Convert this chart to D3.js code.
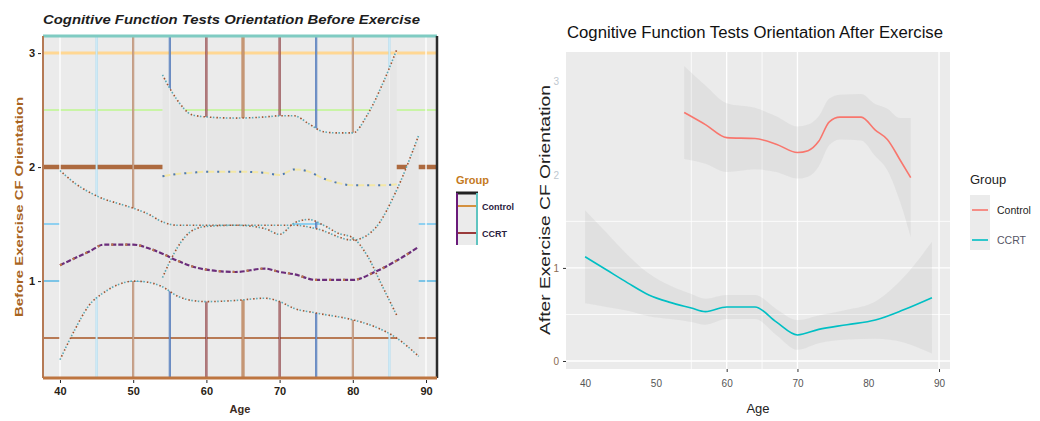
<!DOCTYPE html>
<meta charset="utf-8">
<style>
body { margin: 0; background: #fff; }
svg { display: block; font-family: "Liberation Sans", Arial, sans-serif; }
</style>
<body>
<svg id="chart" width="1040" height="421"></svg>
<script src="https://d3js.org/d3.v7.min.js"></script>
<script>

// ---- data ----
var groups = ["Control", "CCRT"];
var ageTicks = [40, 50, 60, 70, 80, 90];
var beforeTicks = [1, 2, 3];
var afterTicks = [0, 1, 2, 3];

// before exercise (left panel)
var beforeControlAge  = [54, 55, 56, 58, 60, 64, 68, 70, 72, 74, 76, 78, 80, 82, 84, 86];
var beforeControlMean = [1.92, 1.93, 1.94, 1.95, 1.96, 1.96, 1.95, 1.93, 1.98, 1.96, 1.90, 1.86, 1.84, 1.84, 1.84, 1.85];
var beforeControlHigh = [2.81, 2.69, 2.59, 2.46, 2.44, 2.43, 2.44, 2.45, 2.45, 2.38, 2.31, 2.30, 2.30, 2.46, 2.72, 3.03];
var beforeControlLow  = [1.03, 1.17, 1.29, 1.44, 1.48, 1.49, 1.46, 1.41, 1.51, 1.54, 1.49, 1.42, 1.38, 1.22, 0.96, 0.70];

var beforeCcrtAge  = [40, 42, 44, 46, 48, 50, 52, 54, 56, 58, 60, 64, 68, 70, 72, 75, 80, 83, 86, 89];
var beforeCcrtMean = [1.14, 1.20, 1.26, 1.32, 1.32, 1.32, 1.29, 1.24, 1.18, 1.13, 1.10, 1.08, 1.11, 1.08, 1.06, 1.01, 1.01, 1.08, 1.18, 1.30];
var beforeCcrtHigh = [1.97, 1.86, 1.78, 1.72, 1.68, 1.64, 1.59, 1.52, 1.49, 1.49, 1.49, 1.49, 1.49, 1.49, 1.49, 1.46, 1.36, 1.46, 1.80, 2.28];
var beforeCcrtLow  = [0.31, 0.57, 0.79, 0.90, 0.97, 1.00, 0.99, 0.95, 0.87, 0.83, 0.82, 0.83, 0.85, 0.82, 0.76, 0.72, 0.66, 0.60, 0.50, 0.34];

// after exercise (right panel)
var afterControlAge  = [54, 57, 60, 64, 67, 70, 71.5, 73, 74.5, 76, 79, 81, 82.7, 84.5, 86];
var afterControlMean = [2.67, 2.54, 2.40, 2.39, 2.33, 2.24, 2.26, 2.36, 2.57, 2.62, 2.62, 2.48, 2.38, 2.16, 1.97];
var afterControlHigh = [3.17, 2.96, 2.77, 2.72, 2.63, 2.52, 2.54, 2.63, 2.82, 2.86, 2.87, 2.76, 2.71, 2.61, 2.61];
var afterControlLow  = [2.17, 2.12, 2.03, 2.06, 2.03, 1.96, 1.98, 2.09, 2.32, 2.38, 2.37, 2.20, 2.05, 1.71, 1.33];

var afterCcrtAge  = [40, 43, 46, 49, 52, 55, 57, 60, 64, 67, 70, 73, 77, 81, 85, 89];
var afterCcrtMean = [1.12, 0.98, 0.84, 0.71, 0.63, 0.57, 0.53, 0.58, 0.58, 0.42, 0.28, 0.34, 0.39, 0.44, 0.55, 0.68];
var afterCcrtHigh = [1.62, 1.38, 1.14, 0.94, 0.81, 0.72, 0.67, 0.71, 0.71, 0.56, 0.44, 0.49, 0.55, 0.64, 0.90, 1.28];
var afterCcrtLow  = [0.62, 0.58, 0.54, 0.48, 0.45, 0.42, 0.39, 0.45, 0.45, 0.28, 0.12, 0.19, 0.23, 0.24, 0.20, 0.08];

function rows(age, mean, low, high) {
  return age.map(function(a, i) { return {age: a, mean: mean[i], low: low[i], high: high[i]}; });
}

var svg = d3.select("#chart");
var intFmt = d3.format("d");

// ================= left panel (before) =================
var lx = d3.scaleLinear().domain([37.68, 91.5]).range([43, 437]);
var ly = d3.scaleLinear().domain([0.15, 3.15]).range([378, 36]);

var left = svg.append("g");

left.append("rect")
    .attr("x", lx.range()[0]).attr("y", ly.range()[1])
    .attr("width", lx.range()[1] - lx.range()[0])
    .attr("height", ly.range()[0] - ly.range()[1])
    .attr("fill", "#ebebeb");

// odd coloured grid
var vGrid = d3.range(40, 91, 5);
var vColors = ["#ffffff", "#a8dcf2", "#b07a58", "#2f5fae", "#7b1e22", "#b5784c", "#7b1e22", "#2f5fae", "#b07a58", "#a8dcf2", "#ffffff"];
var vWidths = [1.2, 2, 2, 2, 2, 3, 2, 2, 2, 2, 1.2];
var hGrid = [0.5, 1, 1.5, 2, 2.5, 3];
var hColors = ["#b87a55", "#7cc4e6", "#8fd0f0", "#ad6a3f", "#c9f4a6", "#ffd793"];
var hWidths = [2, 2, 2, 4.5, 2, 3];

left.selectAll(".hgrid").data(hGrid).enter().append("line")
    .attr("x1", 43).attr("x2", 437)
    .attr("y1", function(d) { return ly(d); })
    .attr("y2", function(d) { return ly(d); })
    .attr("stroke", function(d, i) { return hColors[i]; })
    .attr("stroke-width", function(d, i) { return hWidths[i]; });

left.selectAll(".vgrid").data(vGrid).enter().append("line")
    .attr("y1", 36).attr("y2", 378)
    .attr("x1", function(d) { return lx(d); })
    .attr("x2", function(d) { return lx(d); })
    .attr("stroke", function(d, i) { return vColors[i]; })
    .attr("stroke-width", function(d, i) { return vWidths[i]; });

var bControl = rows(beforeControlAge, beforeControlMean, beforeControlLow, beforeControlHigh);
var bCcrt = rows(beforeCcrtAge, beforeCcrtMean, beforeCcrtLow, beforeCcrtHigh);

var lArea = d3.area().curve(d3.curveMonotoneX)
    .x(function(d) { return lx(d.age); })
    .y0(function(d) { return ly(d.low); })
    .y1(function(d) { return ly(d.high); });

[bCcrt, bControl].forEach(function(s) {
  left.append("path").attr("d", lArea(s)).attr("fill", "#e6e6e6");
});

// faint white grid showing through the ribbons
left.selectAll(".wv").data(vGrid).enter().append("line")
    .attr("y1", 36).attr("y2", 378)
    .attr("x1", function(d) { return lx(d); })
    .attr("x2", function(d) { return lx(d); })
    .attr("stroke", "#fff").attr("stroke-width", 1).attr("opacity", 0.45);

function edge(key) {
  return d3.line().curve(d3.curveMonotoneX)
      .x(function(d) { return lx(d.age); })
      .y(function(d) { return ly(d[key]); });
}

[bCcrt, bControl].forEach(function(s) {
  ["low", "high"].forEach(function(k) {
    left.append("path").attr("d", edge(k)(s)).attr("fill", "none")
        .attr("stroke", "#5aa9b5").attr("stroke-width", 1.6).attr("stroke-dasharray", "1.5,5");
    left.append("path").attr("d", edge(k)(s)).attr("fill", "none")
        .attr("stroke", "#a0522d").attr("stroke-width", 1.6).attr("stroke-dasharray", "1.5,5")
        .attr("stroke-dashoffset", 3);
  });
});

left.append("path").attr("d", edge("mean")(bCcrt)).attr("fill", "none")
    .attr("stroke", "#6b2d7b").attr("stroke-width", 2.2).attr("stroke-dasharray", "5,2");
left.append("path").attr("d", edge("mean")(bCcrt)).attr("fill", "none")
    .attr("stroke", "#c07a45").attr("stroke-width", 2.2).attr("stroke-dasharray", "2,12");
left.append("path").attr("d", edge("mean")(bControl)).attr("fill", "none")
    .attr("stroke", "#f3e7a6").attr("stroke-width", 2).attr("stroke-dasharray", "8,3");
left.append("path").attr("d", edge("mean")(bControl)).attr("fill", "none")
    .attr("stroke", "#4a77b8").attr("stroke-width", 2).attr("stroke-dasharray", "2,9");

// panel borders
left.append("line").attr("x1", 43).attr("x2", 437).attr("y1", 36).attr("y2", 36)
    .attr("stroke", "#7fcbc2").attr("stroke-width", 3);
left.append("line").attr("x1", 43).attr("x2", 43).attr("y1", 36).attr("y2", 378)
    .attr("stroke", "#b57a55").attr("stroke-width", 2);
left.append("line").attr("x1", 437).attr("x2", 437).attr("y1", 36).attr("y2", 378)
    .attr("stroke", "#2b2b2b").attr("stroke-width", 2.5);
left.append("line").attr("x1", 43).attr("x2", 437).attr("y1", 378).attr("y2", 378)
    .attr("stroke", "#bd7540").attr("stroke-width", 3);

// axes
var lxAxis = left.append("g").attr("transform", "translate(0,380)")
    .call(d3.axisBottom(lx).tickValues(ageTicks).tickFormat(intFmt).tickSize(3).tickPadding(4));
var lyAxis = left.append("g").attr("transform", "translate(41,0)")
    .call(d3.axisLeft(ly).tickValues(beforeTicks).tickFormat(intFmt).tickSize(3).tickPadding(3));
[lxAxis, lyAxis].forEach(function(a) {
  a.select(".domain").remove();
  a.selectAll("line").attr("stroke", "#222");
  a.selectAll("text").attr("fill", "#2a1d14").style("font-size", "11px").style("font-weight", "bold");
});

left.append("text").attr("x", 240).attr("y", 413).attr("text-anchor", "middle")
    .style("font-size", "11px").style("font-weight", "bold").attr("fill", "#3b2a1e").text("Age");

left.append("text")
    .attr("transform", "translate(23,207) rotate(-90)")
    .attr("text-anchor", "middle").attr("textLength", 220).attr("lengthAdjust", "spacingAndGlyphs")
    .style("font-size", "11px").style("font-weight", "bold").attr("fill", "#a8641f")
    .text("Before Exercise CF Orientation");

left.append("text").attr("x", 43).attr("y", 24)
    .attr("textLength", 377).attr("lengthAdjust", "spacingAndGlyphs")
    .style("font-size", "13px").style("font-weight", "bold").style("font-style", "italic")
    .attr("fill", "#1d1d1d")
    .text("Cognitive Function Tests Orientation Before Exercise");

// left legend
var lLeg = left.append("g");
lLeg.append("text").attr("x", 456).attr("y", 184)
    .style("font-size", "11px").style("font-weight", "bold").attr("fill", "#c47a1e").text("Group");
lLeg.append("rect").attr("x", 456).attr("y", 192).attr("width", 22).attr("height", 53).attr("fill", "#ebebeb");
lLeg.append("line").attr("x1", 456).attr("x2", 478).attr("y1", 193).attr("y2", 193).attr("stroke", "#222").attr("stroke-width", 3);
lLeg.append("line").attr("x1", 457).attr("x2", 457).attr("y1", 193).attr("y2", 245).attr("stroke", "#6a1b7a").attr("stroke-width", 2);
lLeg.append("line").attr("x1", 477).attr("x2", 477).attr("y1", 193).attr("y2", 245).attr("stroke", "#5fc4c0").attr("stroke-width", 2);
var lKeyColors = ["#d4913f", "#9a3b3b"];
lLeg.selectAll(".key").data(groups).enter().append("line")
    .attr("x1", 458).attr("x2", 476)
    .attr("y1", function(d, i) { return 206 + i * 27; })
    .attr("y2", function(d, i) { return 206 + i * 27; })
    .attr("stroke", function(d, i) { return lKeyColors[i]; }).attr("stroke-width", 2);
lLeg.selectAll(".lab").data(groups).enter().append("text")
    .attr("x", 482).attr("y", function(d, i) { return 210 + i * 27; })
    .style("font-size", "9px").style("font-weight", "bold").attr("fill", "#2a2040")
    .text(function(d) { return d; });

// ================= right panel (after) =================
var rx = d3.scaleLinear().domain([37.3, 91.55]).range([566, 950]);
var ry = d3.scaleLinear().domain([-0.086, 3.32]).range([369, 52]);

var right = svg.append("g");

right.append("rect")
    .attr("x", 566).attr("y", 52).attr("width", 384).attr("height", 317)
    .attr("fill", "#ebebeb");

// only these grid lines survive in the picture
var rvGrid = [55, 60, 65, 70, 90];
var rhGrid = [0, 0.5, 1, 1.5];
right.selectAll(".rv").data(rvGrid).enter().append("line")
    .attr("y1", 52).attr("y2", 369)
    .attr("x1", function(d) { return rx(d); }).attr("x2", function(d) { return rx(d); })
    .attr("stroke", "#fff").attr("stroke-width", function(d) { return d % 10 === 0 ? 1.3 : 0.8; });
right.selectAll(".rh").data(rhGrid).enter().append("line")
    .attr("x1", 566).attr("x2", 950)
    .attr("y1", function(d) { return ry(d); }).attr("y2", function(d) { return ry(d); })
    .attr("stroke", "#fff").attr("stroke-width", function(d) { return d % 1 === 0 ? 1.3 : 0.8; });

var aControl = rows(afterControlAge, afterControlMean, afterControlLow, afterControlHigh);
var aCcrt = rows(afterCcrtAge, afterCcrtMean, afterCcrtLow, afterCcrtHigh);
var rColors = ["#F8766D", "#00BFC4"];

var rArea = d3.area().curve(d3.curveMonotoneX)
    .x(function(d) { return rx(d.age); })
    .y0(function(d) { return ry(d.low); })
    .y1(function(d) { return ry(d.high); });
var rLine = d3.line().curve(d3.curveMonotoneX)
    .x(function(d) { return rx(d.age); })
    .y(function(d) { return ry(d.mean); });

[aControl, aCcrt].forEach(function(s) {
  right.append("path").attr("d", rArea(s)).attr("fill", "#999").attr("opacity", 0.13);
});
[aControl, aCcrt].forEach(function(s, i) {
  right.append("path").attr("d", rLine(s)).attr("fill", "none")
      .attr("stroke", rColors[i]).attr("stroke-width", 1.6);
});

var rxAxis = right.append("g").attr("transform", "translate(0,369)")
    .call(d3.axisBottom(rx).tickValues(ageTicks).tickFormat(intFmt).tickSize(3).tickPadding(8));
var ryAxis = right.append("g").attr("transform", "translate(566,0)")
    .call(d3.axisLeft(ry).tickValues(afterTicks).tickFormat(intFmt).tickSize(3).tickPadding(4));
[rxAxis, ryAxis].forEach(function(a) {
  a.select(".domain").remove();
  a.selectAll("line").attr("stroke", "#333");
  a.selectAll("text").attr("fill", "#555").style("font-size", "10px");
});
// tick marks only where the picture shows them
rxAxis.selectAll(".tick line").attr("opacity", function(d) { return [60, 70, 90].indexOf(d) >= 0 ? 1 : 0; });
ryAxis.selectAll(".tick line").attr("opacity", function(d) { return d <= 1 ? 1 : 0; });
ryAxis.selectAll(".tick text").attr("fill", function(d) { return d <= 1 ? "#8a6a50" : "#c0c8d0"; });

right.append("text").attr("x", 758).attr("y", 413).attr("text-anchor", "middle")
    .style("font-size", "13px").attr("fill", "#222").text("Age");

right.append("text")
    .attr("transform", "translate(550,210) rotate(-90)")
    .attr("text-anchor", "middle").attr("textLength", 250).attr("lengthAdjust", "spacingAndGlyphs")
    .style("font-size", "14px").attr("fill", "#222")
    .text("After Exercise CF Orientation");

right.append("text").attr("x", 567).attr("y", 38)
    .attr("textLength", 376).attr("lengthAdjust", "spacingAndGlyphs")
    .style("font-size", "16px").attr("fill", "#111")
    .text("Cognitive Function Tests Orientation After Exercise");

var rLeg = right.append("g");
rLeg.append("text").attr("x", 970).attr("y", 184)
    .style("font-size", "13px").attr("fill", "#222").text("Group");
rLeg.append("rect").attr("x", 970).attr("y", 195).attr("width", 20).attr("height", 55).attr("fill", "#ebebeb");
rLeg.selectAll(".key").data(groups).enter().append("line")
    .attr("x1", 972).attr("x2", 988)
    .attr("y1", function(d, i) { return 210 + i * 30; })
    .attr("y2", function(d, i) { return 210 + i * 30; })
    .attr("stroke", function(d, i) { return rColors[i]; }).attr("stroke-width", 1.6);
rLeg.selectAll(".lab").data(groups).enter().append("text")
    .attr("x", 997).attr("y", function(d, i) { return 214 + i * 30; })
    .style("font-size", "10.5px").attr("fill", function(d, i) { return i ? "#556" : "#222"; })
    .text(function(d) { return d; });

</script>
</body>
